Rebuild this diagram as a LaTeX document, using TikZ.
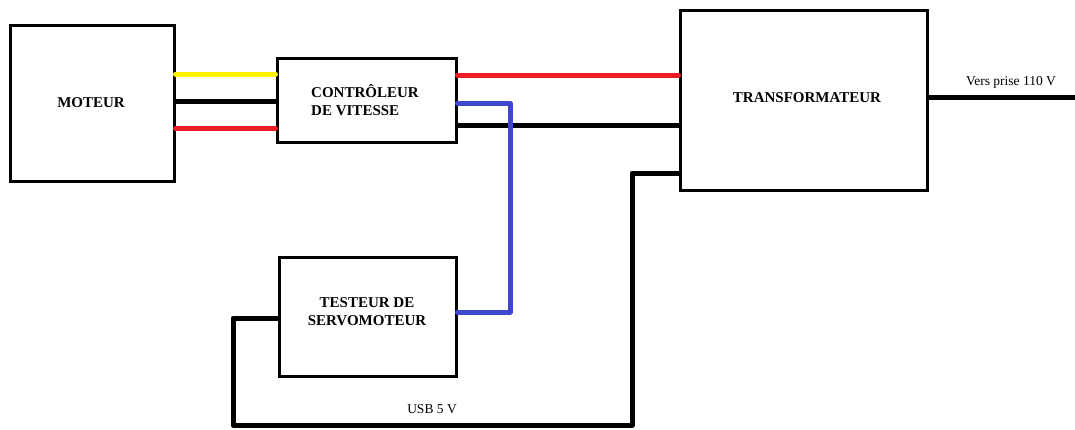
\documentclass[tikz,border=0pt]{standalone}
\usepackage{fontspec}
\setmainfont{Liberation Serif}
\definecolor{wyellow}{RGB}{255,242,0}
\definecolor{wred}{RGB}{237,28,36}
\definecolor{wblue}{RGB}{63,72,204}
\begin{document}
\begin{tikzpicture}[x=1pt,y=-1pt,
  box/.style={draw,line width=3pt,rectangle,inner sep=0pt},
  lbl/.style={font=\fontsize{15}{18}\selectfont\bfseries,inner sep=0pt,align=center},
  wire/.style={line width=5pt},
  cwire/.style={line width=5pt,line cap=round},
  note/.style={font=\fontsize{13.5}{16}\selectfont,inner sep=0pt}]
\useasboundingbox[fill=white] (0,0) rectangle (1075,429);
\node[box,minimum width=164pt,minimum height=156pt] (mot) at (92,103) {};
\node[box,minimum width=179pt,minimum height=84pt] (ctrl) at (366.5,100) {};
\node[box,minimum width=247pt,minimum height=180pt] (trans) at (803.5,100) {};
\node[box,minimum width=177pt,minimum height=119pt] (test) at (367.5,316.5) {};
\node[lbl] (tmot) at (91,103) {MOTEUR};
\node[lbl,align=left] (tctrl) at (365,100) {CONTRÔLEUR\\DE VITESSE};
\node[lbl] (ttrans) at (807,98) {TRANSFORMATEUR};
\node[lbl] (ttest) at (367,312) {TESTEUR DE\\SERVOMOTEUR};
\node[note] (vers) at (1011,82) {Vers prise 110 V};
\node[note] (usb) at (432,409) {USB 5 V};
\coordinate (out) at (1075,97);
% motor to controller
\draw[cwire,wyellow] (mot.east |- 0,74) -- (ctrl.west |- 0,74);
\draw[wire,black] (mot.east |- 0,101) -- (ctrl.west |- 0,101);
\draw[cwire,wred] (mot.east |- 0,128) -- (ctrl.west |- 0,128);
% controller to transformer
\draw[cwire,wred] (ctrl.east |- 0,75) -- (trans.west |- 0,75);
\draw[wire,black] (ctrl.east |- 0,125) -- (trans.west |- 0,125);
% blue controller to tester
\draw[cwire,wblue,line join=round] (ctrl.east |- 0,103) -- (510,103) -- (510,312) -- (test.east |- 0,312);
% transformer to tester (USB)
\draw[wire,black,line join=round] (trans.west |- 0,173) -- (632,173) -- (632,425) -- (233,425) -- (233,318) -- (test.west |- 0,318);
% output
\draw[wire,black] (trans.east |- out) -- (out);
\end{tikzpicture}
\end{document}
